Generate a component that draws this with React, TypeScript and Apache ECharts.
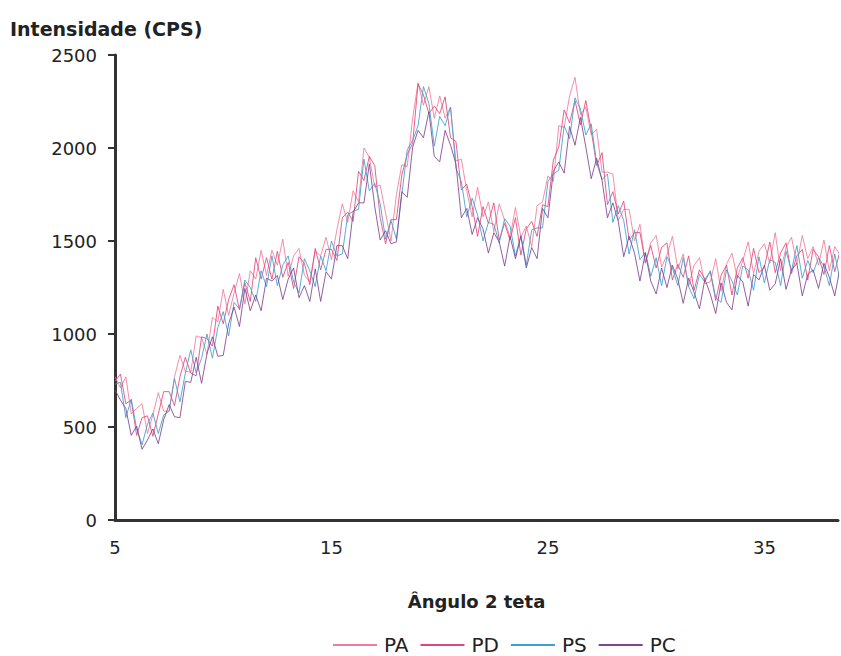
import React, { useEffect, useRef } from "react";
import * as echarts from "echarts";

// 2θ sampling grid: instrument step of 0.25° from 5° to 38.5°
const angles: number[] = Array.from({ length: 135 }, (_, i) => 5 + i * 0.25);

const seriesNames = ["PA", "PD", "PS", "PC"];

const PA = [
  770, 710, 770, 570, 600, 625, 465, 565, 685, 585,
  585, 770, 885, 800, 795, 990, 980, 890, 1090, 1065,
  1240, 1100, 1220, 1325, 1160, 1340, 1295, 1450, 1315, 1450,
  1370, 1510, 1310, 1420, 1460, 1315, 1280, 1445, 1420, 1520,
  1400, 1560, 1700, 1600, 1770, 1710, 2000, 1950, 1790, 1800,
  1650, 1500, 1750, 1910, 1900, 2160, 2350, 2230, 2330, 2160,
  2280, 2160, 2220, 1930, 1940, 1770, 1630, 1790, 1630, 1710,
  1550, 1700, 1610, 1520, 1680, 1520, 1580, 1470, 1690, 1710,
  1850, 1820, 2120, 2110, 2280, 2380, 2180, 2220, 2070, 2100,
  1870, 1870, 1860, 1610, 1670, 1670, 1500, 1590, 1380, 1490,
  1530, 1360, 1425, 1525, 1350, 1430, 1255, 1370, 1410, 1270,
  1280, 1405, 1230, 1375, 1435, 1300, 1395, 1495, 1325, 1445,
  1485, 1380, 1545, 1340, 1465, 1520, 1375, 1530, 1405, 1470,
  1370, 1505, 1340, 1470, 1425,
];

const PD = [
  745, 785, 625, 645, 455, 550, 560, 450, 570, 690,
  690, 615, 770, 875, 790, 775, 985, 975, 935, 1150,
  1055, 1185, 1265, 1130, 1275, 1175, 1410, 1295, 1410, 1295,
  1445, 1305, 1385, 1245, 1415, 1380, 1265, 1460, 1345, 1455,
  1455, 1395, 1625, 1655, 1605, 1875, 1825, 1955, 1905, 1625,
  1485, 1615, 1615, 1855, 1965, 2025, 2345, 2285, 2185, 2225,
  2185, 2275, 2055, 2035, 1775, 1805, 1685, 1525, 1685, 1595,
  1705, 1505, 1595, 1505, 1625, 1425, 1565, 1605, 1525, 1695,
  1685, 1935, 2005, 2205, 2135, 2255, 2125, 2255, 2095, 1905,
  1975, 1695, 1765, 1645, 1715, 1505, 1545, 1545, 1385, 1475,
  1355, 1465, 1490, 1290, 1375, 1305, 1420, 1235, 1345, 1295,
  1335, 1180, 1315, 1370, 1210, 1355, 1410, 1300, 1460, 1330,
  1360, 1495, 1330, 1435, 1490, 1325, 1420, 1455, 1290, 1455,
  1415, 1320, 1475, 1335, 1450,
];

const PS = [
  730, 740, 550, 650, 490, 405, 515, 575, 465, 565,
  585, 760, 635, 790, 915, 790, 870, 1000, 870, 1035,
  1120, 990, 1170, 1135, 1290, 1250, 1175, 1340, 1255, 1420,
  1260, 1370, 1420, 1280, 1220, 1405, 1340, 1255, 1420, 1340,
  1500, 1420, 1430, 1640, 1660, 1670, 1940, 1770, 1810, 1700,
  1510, 1610, 1510, 1750, 1990, 2040, 2120, 2330, 2240, 2010,
  2170, 2120, 2220, 1890, 1820, 1630, 1730, 1640, 1500, 1600,
  1590, 1490, 1620, 1580, 1420, 1530, 1370, 1560, 1570, 1570,
  1820, 1860, 1880, 2120, 2050, 2270, 2210, 2070, 2130, 1920,
  1830, 1860, 1600, 1690, 1610, 1430, 1560, 1400, 1440, 1310,
  1410, 1260, 1415, 1355, 1260, 1410, 1255, 1190, 1320, 1280,
  1340, 1195, 1170, 1345, 1285, 1210, 1365, 1345, 1235, 1415,
  1275, 1400, 1385, 1260, 1445, 1340, 1475, 1300, 1395, 1330,
  1410, 1365, 1260, 1430, 1285,
];

const PC = [
  700, 645, 600, 455, 505, 380, 430, 490, 410, 540,
  620, 555, 550, 745, 740, 875, 735, 895, 985, 880,
  885, 1055, 1145, 1040, 1245, 1125, 1210, 1125, 1300, 1285,
  1315, 1185, 1295, 1355, 1195, 1260, 1175, 1350, 1175, 1335,
  1295, 1475, 1475, 1405, 1655, 1705, 1705, 1915, 1685, 1505,
  1555, 1485, 1495, 1765, 1735, 2005, 2095, 2055, 2195, 1955,
  1925, 2095, 2015, 1915, 1625, 1675, 1535, 1625, 1565, 1435,
  1545, 1495, 1365, 1525, 1405, 1525, 1355, 1465, 1405, 1675,
  1625, 1875, 1925, 1865, 2115, 2015, 2165, 2005, 1835, 1945,
  1825, 1625, 1705, 1605, 1415, 1525, 1435, 1285, 1435, 1285,
  1215, 1355, 1250, 1370, 1295, 1165, 1300, 1225, 1135, 1295,
  1215, 1110, 1275, 1170, 1130, 1315, 1280, 1150, 1320, 1290,
  1370, 1235, 1270, 1405, 1240, 1345, 1380, 1205, 1320, 1345,
  1245, 1380, 1305, 1205, 1360,
];

const xTicks = [5, 15, 25, 35];
const yMax = 2500;
const yStep = 500;

const seriesValues = [PA, PD, PS, PC];
const seriesColors = ["#f27a9a", "#e0487a", "#3d9fd0", "#80448f"];

export default function App() {
  const ref = useRef<HTMLDivElement>(null);

  useEffect(() => {
    document.body.style.margin = "0";
    if (!ref.current) return;
    const chart = echarts.init(ref.current, undefined, { renderer: "svg" });
    const font = "'DejaVu Sans', 'Liberation Sans', Arial, sans-serif";
    chart.setOption({
      animation: false,
      backgroundColor: "#ffffff",
      textStyle: { fontFamily: font },
      graphic: [
        {
          type: "text",
          left: 10,
          top: 19,
          style: {
            text: "Intensidade (CPS)",
            font: `bold 19px ${font}`,
            fill: "#222",
          },
        },
      ],
      legend: {
        data: seriesNames,
        top: 630,
        left: 328,
        itemWidth: 44,
        itemHeight: 2,
        itemGap: 12,
        icon: "rect",
        textStyle: { fontSize: 20, color: "#222", fontFamily: font, padding: [0, 0, 0, 2] },
      },
      grid: { left: 115, right: 0, top: 55, bottom: 136, containLabel: false },
      xAxis: {
        type: "value",
        min: 5,
        max: 38.4,
        interval: 10,
        name: "Ângulo 2 teta",
        nameLocation: "middle",
        nameGap: 72,
        nameTextStyle: { fontSize: 18, fontWeight: "bold", color: "#222", fontFamily: font },
        axisLine: { show: true, onZero: false, lineStyle: { color: "#333", width: 3 } },
        axisTick: { show: false },
        splitLine: { show: false },
        axisLabel: {
          fontSize: 18,
          color: "#222",
          margin: 18,
          formatter: (v: number) => (xTicks.includes(v) ? String(v) : ""),
        },
      },
      yAxis: {
        type: "value",
        min: 0,
        max: yMax,
        interval: yStep,
        axisLine: { show: true, lineStyle: { color: "#333", width: 3 } },
        axisTick: { show: true, length: 7, lineStyle: { color: "#333", width: 2 } },
        splitLine: { show: false },
        axisLabel: {
          fontSize: 18,
          color: "#222",
          margin: 18,
          formatter: (v: number) => String(v),
        },
      },
      series: seriesNames.map((name, k) => ({
        name,
        type: "line",
        symbol: "none",
        data: angles.map((a, i) => [a, seriesValues[k][i]]),
        lineStyle: { color: seriesColors[k], width: 1, opacity: 0.85 },
        itemStyle: { color: seriesColors[k] },
      })),
    });
    return () => chart.dispose();
  }, []);

  return <div ref={ref} style={{ width: 841, height: 656 }} />;
}
